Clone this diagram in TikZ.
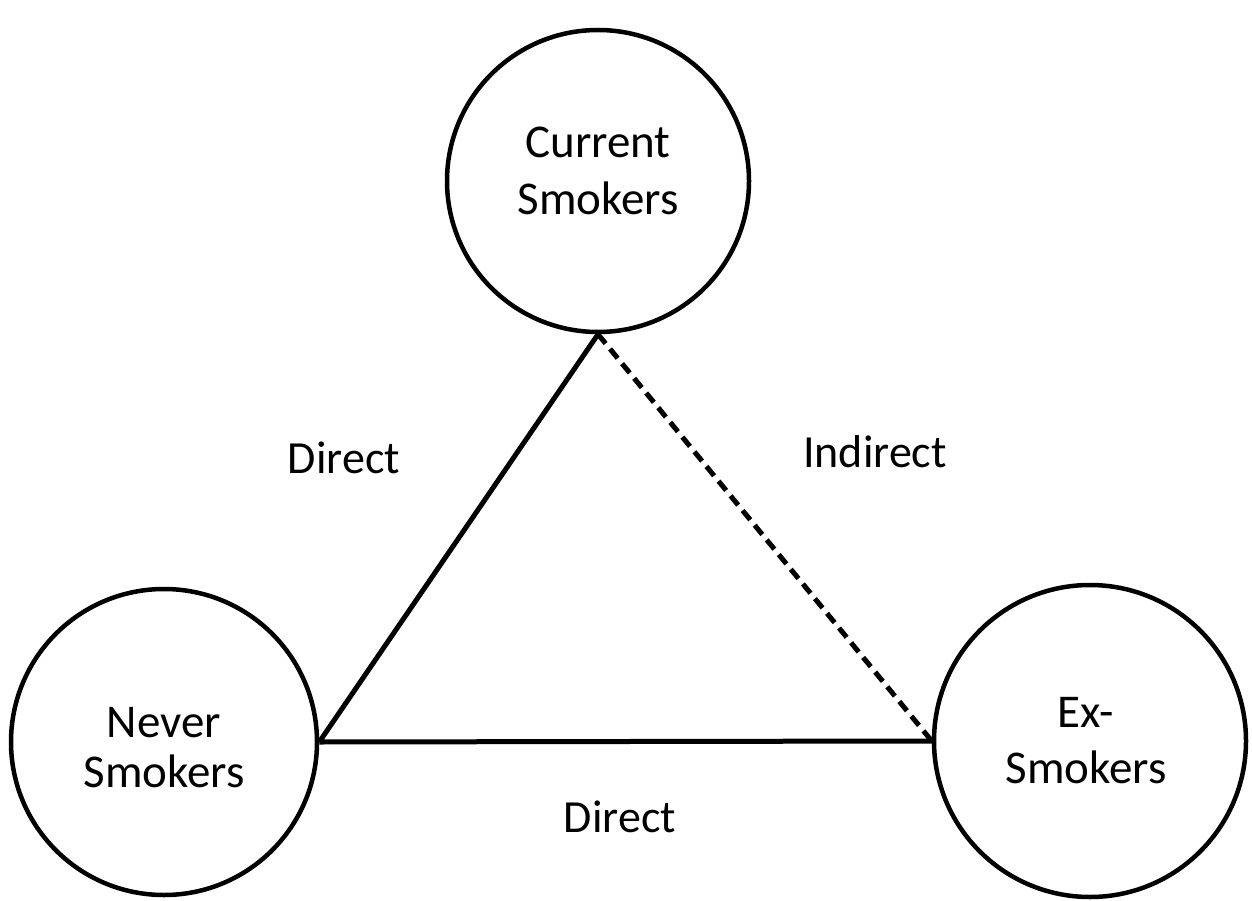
\documentclass[tikz,border=0pt]{standalone}
\usepackage{fontspec}
\setmainfont{Carlito}
\begin{document}
\begin{tikzpicture}[x=1pt,y=-1pt,
  group/.style={draw,circle,line width=4.5pt,minimum size=#1,inner sep=0pt},
  word/.style={anchor=base,inner sep=0pt,font=\fontsize{47}{57}\selectfont},
  link/.style={line width=5pt},
  weaklink/.style={line width=5pt,dash pattern=on 12pt off 7pt},
  tag/.style={anchor=base,inner sep=0pt,font=\fontsize{46}{57}\selectfont}]
\useasboundingbox (0,0) rectangle (1252,901);
% population groups
\node[group=302pt] (cur) at (598,181) {};
\node[group=306pt] (nev) at (164,742) {};
\node[group=312pt] (ex) at (1090,741) {};
% group names, one line each
\node[word] (cur1) at (598,158) {Current};
\node[word] (cur2) at (598,215) {Smokers};
\node[word] (nev1) at (164,737) {Never};
\node[word] (nev2) at (164,787) {Smokers};
\node[word] (ex1) at (1086,727) {Ex-};
\node[word] (ex2) at (1086,783) {Smokers};
% relations
\draw[link] (cur.south) -- (nev.east);
\draw[link] (nev.east) -- (ex.west);
\draw[weaklink] (cur.south) -- (ex.west);
\node[tag] (d1) at (344,473) {Direct};
\node[tag] (ind) at (875,467) {Indirect};
\node[tag] (d2) at (620,832) {Direct};
\end{tikzpicture}
\end{document}
